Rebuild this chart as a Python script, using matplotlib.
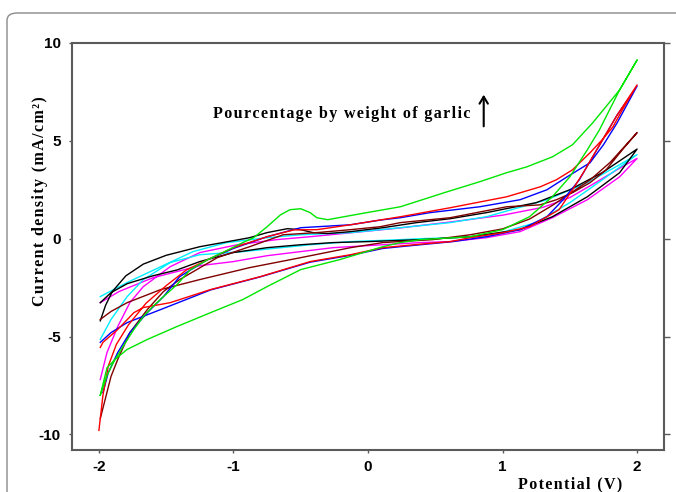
import matplotlib
matplotlib.use("Agg")
import matplotlib.pyplot as plt
from matplotlib.patches import FancyBboxPatch

# Potential sweep (V) and current density (mA/cm^2) for each garlic loading.
# Each loop: forward branch (left -> right) and return branch (right -> left).
green_fwd_v = [-1.99, -1.94, -1.89, -1.82, -1.74, -1.67, -1.60, -1.52, -1.42, -1.32, -1.19, -1.08,
               -0.93, -0.85, -0.75, -0.65, -0.58, -0.50, -0.43, -0.38, -0.30, -0.01, 0.24, 0.59,
               0.83, 1.03, 1.18, 1.37, 1.52, 1.67, 1.87, 2.00]
green_fwd_i = [-8.0, -7.0, -6.3, -5.5, -4.64, -3.98, -3.47, -2.96, -2.35, -1.58, -1.07, -0.71,
               -0.20, 0.05, 0.61, 1.22, 1.48, 1.53, 1.33, 1.07, 0.97, 1.33, 1.63, 2.40,
               2.91, 3.37, 3.67, 4.18, 4.80, 5.92, 7.60, 9.13]
green_rev_v = [2.00, 1.87, 1.72, 1.63, 1.50, 1.37, 1.20, 1.00, 0.76, 0.39, 0.24, 0.11, -0.21,
               -0.50, -0.75, -0.93, -1.17, -1.42, -1.64, -1.79, -1.88, -1.94, -1.99]
green_rev_i = [9.13, 7.60, 5.56, 4.54, 3.16, 2.14, 1.12, 0.46, 0.10, -0.05, -0.20, -0.41, -1.07,
               -1.58, -2.45, -3.11, -3.78, -4.49, -5.15, -5.66, -6.17, -6.6, -8.0]

red_fwd_v = [-2.00, -1.97, -1.93, -1.87, -1.78, -1.65, -1.50, -1.35, -1.19, -1.00, -0.75, -0.55,
             -0.38, -0.13, 0.24, 0.61, 1.03, 1.28, 1.40, 1.52, 1.65, 1.74, 1.82, 1.89, 2.00]
red_fwd_i = [-9.8, -8.0, -6.5, -5.4, -4.4, -3.3, -2.4, -1.6, -1.07, -0.46, 0.10, 0.45,
             0.46, 0.71, 1.12, 1.58, 2.14, 2.65, 3.01, 3.52, 4.39, 5.05, 5.71, 6.58, 7.86]
red_rev_v = [2.00, 1.85, 1.70, 1.60, 1.52, 1.42, 1.33, 1.20, 1.00, 0.76, 0.61, 0.36, 0.11, -0.13,
             -0.43, -0.80, -1.17, -1.47, -1.67, -1.74, -1.86, -1.97, -1.99]
red_rev_i = [7.86, 6.3, 4.54, 3.37, 2.50, 1.48, 1.12, 0.61, 0.30, 0.05, -0.15, -0.30, -0.46, -0.82,
             -1.17, -1.94, -2.60, -3.27, -3.52, -3.78, -4.64, -5.30, -5.56]

blue_fwd_v = [-1.97, -1.93, -1.86, -1.77, -1.64, -1.52, -1.40, -1.20, -1.00, -0.75, -0.50, -0.13,
              0.09, 0.24, 0.46, 0.83, 1.13, 1.33, 1.48, 1.65, 1.75, 1.85, 2.00]
blue_fwd_i = [-7.86, -6.84, -5.82, -4.80, -3.78, -2.96, -1.94, -1.10, -0.50, 0.10, 0.56, 0.71,
              0.95, 1.07, 1.33, 1.63, 1.99, 2.50, 3.16, 3.88, 4.80, 5.90, 7.80]
blue_rev_v = [2.00, 1.85, 1.70, 1.57, 1.45, 1.33, 1.13, 0.88, 0.63, 0.39, 0.24, 0.11, -0.13,
              -0.43, -0.80, -1.17, -1.54, -1.79, -1.91, -1.99]
blue_rev_i = [7.80, 6.3, 4.54, 3.0, 1.99, 1.12, 0.46, 0.10, -0.15, -0.31, -0.41, -0.50, -0.85,
              -1.20, -1.95, -2.62, -3.62, -4.29, -4.80, -5.30]

brown_fwd_v = [-1.99, -1.91, -1.86, -1.77, -1.64, -1.52, -1.40, -1.12, -0.88, -0.63, -0.38, -0.13,
               0.09, 0.24, 0.61, 1.03, 1.28, 1.40, 1.52, 1.65, 1.77, 1.89, 2.00]
brown_fwd_i = [-9.2, -7.04, -6.17, -4.80, -3.62, -2.70, -2.09, -0.97, -0.41, 0.20, 0.31, 0.46,
               0.61, 0.82, 1.07, 1.63, 1.73, 1.99, 2.35, 2.86, 3.52, 4.54, 5.42]
brown_rev_v = [2.00, 1.80, 1.65, 1.50, 1.37, 1.20, 1.00, 0.76, 0.48, 0.11, -0.13, -0.50, -0.88,
               -1.25, -1.54, -1.79, -1.91, -1.99]
brown_rev_i = [5.42, 3.9, 3.0, 2.3, 1.70, 1.0, 0.5, 0.2, -0.05, -0.2, -0.46, -0.97, -1.48,
               -2.09, -2.6, -3.27, -3.72, -4.13]

black_fwd_v = [-1.99, -1.95, -1.90, -1.80, -1.67, -1.50, -1.25, -1.00, -0.88, -0.75, -0.60, -0.50,
               -0.41, -0.30, -0.13, 0.11, 0.36, 0.61, 0.88, 1.25, 1.50, 1.74, 2.00]
black_fwd_i = [-4.2, -3.4, -2.7, -1.9, -1.3, -0.85, -0.41, -0.10, 0.05, 0.31, 0.51, 0.46,
               0.31, 0.26, 0.36, 0.56, 0.82, 1.02, 1.33, 1.84, 2.5, 3.37, 4.58]
black_rev_v = [2.00, 1.87, 1.63, 1.37, 1.13, 0.76, 0.39, 0.0, -0.26, -0.50, -0.75, -1.00, -1.25,
               -1.42, -1.60, -1.79, -1.91, -1.99]
black_rev_i = [4.58, 3.37, 2.14, 1.12, 0.46, 0.10, -0.05, -0.15, -0.20, -0.31, -0.46, -0.71, -1.17,
               -1.6, -1.9, -2.3, -2.76, -3.27]

cyan_fwd_v = [-1.99, -1.79, -1.54, -1.30, -1.05, -0.75, -0.50, -0.13, 0.24, 0.61, 0.88, 1.33,
              1.63, 1.87, 2.00]
cyan_fwd_i = [-2.96, -2.24, -1.43, -0.66, -0.20, 0.05, 0.20, 0.31, 0.56, 0.82, 1.12, 1.99,
              2.86, 3.78, 4.3]
cyan_rev_v = [2.00, 1.74, 1.50, 1.25, 0.88, 0.39, 0.24, -0.13, -0.43, -0.93, -1.25, -1.47,
              -1.67, -1.79, -1.91, -1.99]
cyan_rev_i = [4.3, 3.0, 1.84, 0.82, 0.10, 0.0, -0.05, -0.15, -0.31, -0.66, -0.82, -1.22,
              -2.09, -2.96, -4.13, -5.15]

magenta_fwd_v = [-1.99, -1.94, -1.86, -1.77, -1.67, -1.47, -1.25, -0.97, -0.68, -0.43, -0.13,
                 0.24, 0.61, 1.00, 1.30, 1.50, 1.70, 1.87, 2.00]
magenta_fwd_i = [-7.2, -5.82, -4.49, -3.27, -2.45, -1.43, -0.71, -0.31, -0.05, 0.10, 0.30,
                 0.55, 0.85, 1.2, 1.6, 2.1, 2.9, 3.6, 4.1]
magenta_rev_v = [2.00, 1.87, 1.63, 1.37, 1.13, 0.88, 0.61, 0.39, 0.11, -0.26, -0.50, -0.75,
                 -1.00, -1.25, -1.6, -1.85, -1.99]
magenta_rev_i = [4.1, 3.16, 1.99, 1.07, 0.36, 0.05, -0.15, -0.2, -0.31, -0.46, -0.66, -0.87,
                 -1.17, -1.38, -2.0, -2.7, -3.27]

x_ticks = [-2, -1, 0, 1, 2]
y_ticks = [-10, -5, 0, 5, 10]

SERIF = ["Liberation Serif", "DejaVu Serif"]
SANS = ["Liberation Sans", "DejaVu Sans"]


def spaced(s, gap="\u200a"):
    """Widen letter spacing with hair spaces."""
    return gap.join(s)


fig = plt.figure(figsize=(6.76, 4.92), dpi=100)
fig.patch.set_facecolor("white")

# rounded frame around the figure
frame = FancyBboxPatch((7 / 676, -0.1), 1.2, 1.1 - 13 / 492,
                       boxstyle="round,pad=0,rounding_size=0.015",
                       transform=fig.transFigure, facecolor="none",
                       edgecolor="#8a8a8a", linewidth=1.0, clip_on=False)
fig.patches.append(frame)

ax = fig.add_axes([72 / 676, 1 - 450 / 492, (664 - 72) / 676, (450 - 43) / 492])

loops = [
    (magenta_fwd_v, magenta_fwd_i, magenta_rev_v, magenta_rev_i, "#ff00ff"),
    (cyan_fwd_v, cyan_fwd_i, cyan_rev_v, cyan_rev_i, "#00eeff"),
    (black_fwd_v, black_fwd_i, black_rev_v, black_rev_i, "#000000"),
    (brown_fwd_v, brown_fwd_i, brown_rev_v, brown_rev_i, "#800000"),
    (blue_fwd_v, blue_fwd_i, blue_rev_v, blue_rev_i, "#0000ff"),
    (red_fwd_v, red_fwd_i, red_rev_v, red_rev_i, "#ff0000"),
    (green_fwd_v, green_fwd_i, green_rev_v, green_rev_i, "#00e600"),
]
for fv, fi, rv, ri, col in loops:
    ax.plot(list(fv) + list(rv), list(fi) + list(ri), color=col, lw=1.0,
            solid_joinstyle="round")

ax.set_xlim(-2.2, 2.2)
ax.set_ylim(-10.8, 10)
ax.set_xticks(x_ticks)
ax.set_yticks(y_ticks)
ax.set_xticklabels([str(t) for t in x_ticks], fontfamily=SANS, fontweight="bold", fontsize=11)
ax.set_yticklabels([str(t) for t in y_ticks], fontfamily=SANS, fontweight="bold", fontsize=11)
ax.tick_params(axis="both", direction="out", length=2, width=1, color="#5a5a5a")
ax.tick_params(axis="x", pad=5)
ax.tick_params(axis="y", pad=6, right=True)
for tick in ax.yaxis.get_major_ticks():
    tick.tick2line.set_color("#d0d0d0")
    tick.tick2line.set_markersize(4)
for sp in ax.spines.values():
    sp.set_color("#5a5a5a")
    sp.set_linewidth(1.5)

LABEL_SIZE = 11.5
fig.text(40 / 676, 1 - 201 / 492, spaced("Current density (mA/cm²)"),
         rotation=90, ha="center", va="center", fontfamily=SERIF,
         fontweight="bold", fontsize=LABEL_SIZE)
fig.text(570 / 676, 1 - 484 / 492, spaced("Potential (V)"),
         ha="center", va="center", fontfamily=SERIF, fontweight="bold", fontsize=LABEL_SIZE)

ax.text(-1.15, 6.38, spaced("Pourcentage by weight of garlic"), ha="left", va="center",
        fontfamily=SERIF, fontweight="bold", fontsize=LABEL_SIZE)
ax.annotate("", xy=(0.86, 7.5), xytext=(0.86, 5.6),
            arrowprops=dict(arrowstyle="->,head_length=0.5,head_width=0.3",
                            color="black", lw=1.5))

fig.savefig("out.png", dpi=100, facecolor="white")
